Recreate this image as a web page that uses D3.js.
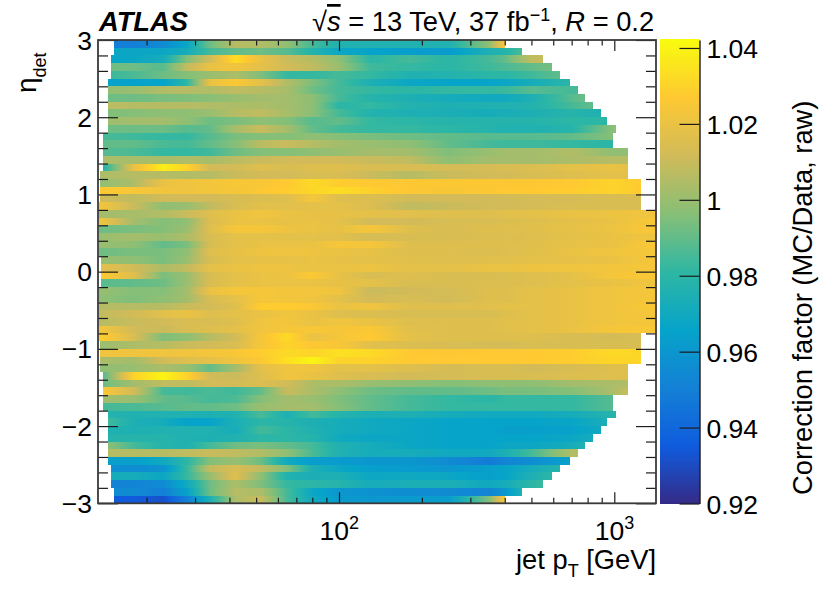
<!DOCTYPE html>
<html><head><meta charset="utf-8">
<script src="https://cdn.jsdelivr.net/npm/d3@7"></script>
<style>
html,body{margin:0;padding:0;background:#fff}
text{font-family:"Liberation Sans",Arial,sans-serif;fill:#000}
</style></head><body>
<svg id="c" width="830" height="592"></svg>
<script>
const pTKnots=[13.3,18,23,28,34,42,52,65,80,100,130,180,250,350,400,500,700,1000,1400];
const etaMajor=[3,2,1,0,-1,-2,-3];
const zTicks=[0.92,0.94,0.96,0.98,1,1.02,1.04];
const zTickLabels=["0.92","0.94","0.96","0.98","1","1.02","1.04"];
const birdR=[0.2082,0.0592,0.0780,0.0232,0.1802,0.5301,0.8186,0.9956,0.9764];
const birdG=[0.1664,0.3599,0.5041,0.6419,0.7178,0.7492,0.7328,0.7862,0.9832];
const birdB=[0.5293,0.8684,0.8385,0.7914,0.6425,0.4662,0.3499,0.1968,0.0539];
const rowStart=[15.2,15.2,14.9,14.9,14.9,14.5,14.5,14.5,14.5,14.5,14.5,14.5,13.9,13.9,13.9,13.9,13.9,13.6,13.6,13.6,13.6,13.4,13.4,13.4,13.4,13.4,13.4,13.4,13.7,13.7,
13.7,13.7,13.4,13.4,13.4,13.4,13.4,13.4,13.4,13.6,13.6,13.6,13.6,13.9,13.9,13.9,13.9,13.9,14.5,14.5,14.5,14.5,14.5,14.5,14.5,14.9,14.9,14.9,15.2,15.2];
const rowEnd=[400,463,550,592,635,690,738,783,835,893,941,1012,992,992,1121,1121,1121,1121,1247,1247,1247,1247,1400,1400,1400,1400,1400,1400,1400,1400,
1400,1400,1400,1400,1400,1400,1400,1400,1247,1247,1247,1247,1121,1121,1121,1121,992,992,1012,941,893,835,783,738,690,635,592,550,463,400];
const correction=[
[.950,.950,.955,.968,.992,1.006,1.005,.998,.985,.976,.976,.976,.976,.998,1.026],
[.968,.968,.968,.972,.985,.990,.992,.988,.978,.968,.966,.963,.962,.975,.978,.990],
[.966,.968,.972,.995,1.012,1.033,1.020,1.010,1.006,.998,.980,.985,.980,.985,.990,1.008,1.012],
[.993,.992,.988,1.008,1.020,1.022,1.018,1.012,1.008,1.000,.984,.982,.980,.984,.986,.990,.996],
[.982,.986,.992,.996,1.000,1.004,.995,.982,.982,.985,.982,.976,.977,.980,.980,.984,.992],
[.965,.965,.966,.980,1.020,1.026,1.018,1.005,.995,.985,.975,.968,.966,.966,.968,.972,.980],
[.998,1.000,1.005,1.006,1.005,1.008,1.006,1.003,.992,.985,.982,.980,.982,.982,.983,.988,.985,.985],
[.992,.992,.994,.995,.997,1.000,1.002,1.002,.998,.985,.978,.975,.972,.970,.970,.975,.988,.998],
[1.008,1.006,1.006,1.006,1.005,1.004,1.004,1.002,.998,.980,.982,.977,.975,.976,.976,.977,.985,.995],
[.995,.996,.998,.998,1.000,1.006,1.008,1.003,.997,.985,.977,.975,.974,.972,.973,.975,.978,.975],
[1.000,1.002,1.002,.998,.992,.994,.998,.996,.988,.990,.982,.980,.978,.978,.978,.978,.980,.980],
[.992,.992,.992,.988,.990,1.003,1.010,1.002,.990,.985,.982,.982,.980,.978,.976,.976,.978,.998,1.000],
[.986,.984,.982,.982,.988,.994,.996,.996,.998,.996,.994,.992,.990,.988,.988,.988,.990,.996],
[.990,.990,.986,.985,.990,.996,1.007,1.010,1.006,1.002,1.000,.998,.990,.985,.984,.984,.982,.980],
[.988,.986,.982,.982,.984,.992,.996,.996,.998,1.000,1.002,1.002,.995,1.000,1.002,1.002,1.005,.998,1.000],
[1.004,1.003,1.003,1.005,1.003,1.007,1.010,1.012,1.012,1.012,1.010,1.008,.998,1.002,1.002,1.002,1.004,1.006,1.008],
[.970,1.020,1.038,1.030,1.012,1.012,1.016,1.014,1.016,1.016,1.014,1.014,1.013,1.013,1.014,1.015,1.018,1.020,1.014],
[1.004,1.006,1.006,1.005,1.006,1.010,1.012,1.012,1.014,1.014,1.010,1.006,1.010,1.012,1.012,1.014,1.016,1.018,1.016],
[.998,1.004,1.020,1.022,1.023,1.025,1.025,1.027,1.032,1.028,1.027,1.026,1.026,1.026,1.026,1.026,1.027,1.030,1.026],
[1.027,1.025,1.022,1.022,1.023,1.024,1.026,1.028,1.031,1.033,1.029,1.026,1.025,1.026,1.027,1.027,1.028,1.030,1.026],
[1.012,1.008,1.012,1.012,1.012,1.014,1.015,1.016,1.024,1.016,1.015,1.012,1.012,1.012,1.012,1.013,1.013,1.014,1.014],
[1.024,1.010,.998,1.000,1.008,1.014,1.017,1.017,1.018,1.018,1.015,1.008,1.010,1.012,1.012,1.013,1.014,1.014,1.014],
[1.002,1.003,1.005,1.010,1.016,1.020,1.022,1.020,1.019,1.019,1.018,1.017,1.016,1.016,1.017,1.018,1.020,1.021,1.022],
[1.024,1.002,.996,.998,1.015,1.020,1.020,1.019,1.020,1.018,1.012,1.012,1.014,1.014,1.015,1.016,1.018,1.020,1.025],
[.992,.994,.996,1.000,1.016,1.024,1.024,1.021,1.020,1.019,1.024,1.016,1.014,1.016,1.016,1.017,1.019,1.021,1.026],
[1.000,1.002,1.000,1.004,1.014,1.018,1.018,1.018,1.018,1.017,1.013,1.014,1.014,1.015,1.015,1.016,1.018,1.020,1.022],
[1.000,.998,.990,.994,1.014,1.018,1.020,1.020,1.020,1.024,1.024,1.016,1.016,1.016,1.016,1.017,1.019,1.020,1.026],
[.992,.994,.994,.998,1.016,1.019,1.021,1.022,1.021,1.020,1.019,1.016,1.016,1.015,1.016,1.017,1.020,1.022,1.024],
[1.000,.998,.994,1.000,1.014,1.018,1.019,1.019,1.020,1.019,1.018,1.017,1.016,1.017,1.017,1.018,1.019,1.020,1.024],
[1.018,1.012,1.004,1.008,1.018,1.020,1.021,1.021,1.020,1.020,1.021,1.018,1.018,1.020,1.020,1.021,1.022,1.023,1.024],
[1.028,1.016,.994,1.000,1.014,1.018,1.020,1.021,1.026,1.019,1.014,1.016,1.014,1.014,1.015,1.016,1.018,1.024,1.026],
[.988,.990,.992,1.000,1.014,1.018,1.020,1.020,1.020,1.019,1.018,1.014,1.014,1.015,1.015,1.016,1.018,1.020,1.022],
[1.000,.996,.996,1.002,1.020,1.024,1.024,1.023,1.023,1.022,1.010,1.012,1.013,1.016,1.016,1.018,1.020,1.022,1.024],
[.998,.995,.998,1.002,1.014,1.018,1.024,1.023,1.022,1.018,1.012,1.014,1.012,1.016,1.016,1.018,1.020,1.022,1.024],
[1.006,1.006,1.006,1.010,1.012,1.016,1.028,1.028,1.026,1.020,1.022,1.016,1.016,1.017,1.018,1.018,1.020,1.022,1.026],
[1.008,1.012,1.017,1.020,1.016,1.018,1.020,1.022,1.020,1.016,1.015,1.014,1.014,1.014,1.016,1.018,1.020,1.022,1.024],
[1.006,1.010,1.012,1.014,1.014,1.016,1.022,1.023,1.020,1.022,1.020,1.016,1.016,1.016,1.017,1.018,1.020,1.022,1.024],
[1.024,1.012,1.010,1.014,1.016,1.018,1.022,1.024,1.025,1.024,1.026,1.017,1.016,1.016,1.017,1.018,1.020,1.024,1.026],
[1.030,1.014,.995,.998,1.006,1.012,1.024,1.032,1.020,1.024,1.027,1.018,1.016,1.016,1.016,1.016,1.014,1.013,1.014],
[1.000,1.004,1.006,1.010,1.012,1.014,1.024,1.030,1.026,1.025,1.017,1.015,1.014,1.013,1.013,1.014,1.014,1.014,1.014],
[1.022,1.022,1.022,1.022,1.023,1.025,1.028,1.032,1.030,1.034,1.032,1.027,1.026,1.027,1.027,1.027,1.028,1.032,1.030],
[1.004,1.002,1.012,1.016,1.018,1.022,1.026,1.034,1.040,1.030,1.030,1.027,1.027,1.027,1.027,1.027,1.028,1.031,1.030],
[.998,1.000,1.004,1.000,.990,1.002,1.018,1.022,1.022,1.018,1.018,1.016,1.013,1.014,1.014,1.012,1.014,1.016,1.018],
[.980,1.030,1.040,1.030,1.012,1.010,1.016,1.022,1.020,1.016,1.014,1.012,1.013,1.014,1.014,1.014,1.015,1.016,1.016],
[.990,1.002,1.008,1.008,1.012,1.012,1.015,1.012,1.004,1.004,1.000,.998,.996,.998,.998,.998,1.002,1.004,1.006],
[1.028,1.012,.985,.984,.986,.984,.990,1.010,1.004,.998,.992,.990,.990,.992,.994,.994,.996,1.004,1.020],
[1.002,1.000,.990,.988,.985,.986,.996,1.002,1.000,.995,.990,.985,.982,.980,.982,.982,.982,.988],
[.985,.986,.988,.990,.990,.992,1.000,1.002,1.002,.996,.990,.985,.982,.982,.982,.982,.982,.988],
[.978,.976,.976,.976,.975,.976,.986,.975,.985,.978,.974,.975,.972,.970,.970,.970,.972,.978,.978],
[.988,.975,.972,.965,.966,.974,.980,.978,.975,.972,.970,.968,.966,.966,.966,.966,.967,.975],
[.976,.975,.976,.976,.976,.972,.985,.980,.976,.972,.970,.968,.966,.966,.964,.964,.965,.972],
[.978,.978,.978,.976,.975,.976,.980,.980,.978,.970,.968,.968,.966,.966,.966,.966,.968,.975],
[1.002,.985,.978,.976,.985,.992,.994,.990,.985,.976,.972,.968,.966,.966,.968,.968,.972,.985],
[1.006,1.006,1.006,1.008,1.010,1.008,1.005,.998,.986,.976,.972,.972,.970,.970,.974,.985,1.005,1.010],
[.964,.964,.970,.980,.996,1.000,.992,.970,.963,.962,.960,.960,.955,.948,.952,.956,.965],
[.958,.956,.958,.982,1.008,1.014,1.008,.995,.975,.968,.964,.962,.960,.964,.966,.972,.980],
[.972,.972,.968,.982,1.000,1.016,.998,.976,.974,.975,.968,.970,.968,.964,.966,.975,.985],
[.952,.952,.955,.970,.992,1.004,.995,.982,.980,.978,.972,.974,.974,.970,.972,.980,.990],
[.955,.955,.950,.965,.992,1.006,1.004,.985,.968,.960,.958,.956,.955,.952,.960,.985],
[.935,.935,.932,.950,.975,1.004,1.010,.985,.970,.962,.960,.962,.963,.995,1.026]
];

const W=830,H=592,L=98,R=656,T=40,B=503.3;
const svg=d3.select("#c");
const defs=svg.append("defs");
const x=d3.scaleLog().domain([10**(2-241/275.3),10**(3+41.7/275.3)]).range([L,R]);
const y=d3.scaleLinear().domain([3,-3]).range([T,B]);
const zMin=.92,zMax=1.0421;
const stops=birdR.map((_,i)=>zMin+(zMax-zMin)*i/8);
const color=d3.scaleLinear().domain(stops).range(birdR.map((r,i)=>d3.rgb(r*255,birdG[i]*255,birdB[i]*255))).interpolate(d3.interpolateRgb).clamp(true);

correction.forEach((vals,r)=>{
  const g=defs.append("linearGradient").attr("id","row"+r).attr("gradientUnits","userSpaceOnUse")
    .attr("x1",x(pTKnots[0])).attr("x2",x(pTKnots[pTKnots.length-1])).attr("y1",0).attr("y2",0);
  const span=x(pTKnots[pTKnots.length-1])-x(pTKnots[0]);
  vals.forEach((v,i)=>{
    const x0=x(pTKnots[i]);
    if(i===vals.length-1){g.append("stop").attr("offset",(x0-x(pTKnots[0]))/span).attr("stop-color",color(v));return;}
    const x1=x(pTKnots[i+1]);
    for(let s=0;s<4;s++){
      const t=s/4;
      g.append("stop").attr("offset",(x0+(x1-x0)*t-x(pTKnots[0]))/span).attr("stop-color",color(v+(vals[i+1]-v)*t));
    }
  });
});

const heat=svg.append("g");
const cells=[];
correction.forEach((vals,r)=>{
  for(let i=0;i<pTKnots.length-1;i++){
    const lo=Math.max(pTKnots[i],rowStart[r]),hi=Math.min(pTKnots[i+1],rowEnd[r]);
    if(lo<hi) cells.push({r,lo,hi});
  }
});
heat.selectAll("rect").data(cells).join("rect")
  .attr("x",d=>x(d.lo)).attr("width",d=>x(d.hi)-x(d.lo))
  .attr("y",d=>y(3-d.r*.1)).attr("height",y(2.9)-y(3))
  .attr("fill",d=>`url(#row${d.r})`).attr("shape-rendering","crispEdges");

// colour bar
const zs=d3.scaleLinear().domain([zMin,zMax]).range([503.5,40]);
const barVals=d3.range(0,232).map(i=>zMin+(zMax-zMin)*(i+.5)/232);
svg.append("g").selectAll("rect").data(barVals).join("rect")
  .attr("x",660).attr("width",39.5)
  .attr("y",d=>zs(d)-1.5).attr("height",3)
  .attr("fill",d=>color(d)).attr("shape-rendering","crispEdges");

// axes
const fs=26.5, fb=27.3;
const decades=[100,1000];
const xMinor=[20,30,40,50,60,70,80,90,200,300,400,500,600,700,800,900];
const yMinor=d3.range(-2.8,3,.2).map(v=>+v.toFixed(1)).filter(v=>Math.round(v*10)%10!==0);
function style(g){g.select(".domain").remove();g.selectAll("line").attr("stroke","#1c1c1c").attr("stroke-width",1.2);g.selectAll("text").remove();}
svg.append("g").attr("transform",`translate(0,${B})`).call(d3.axisBottom(x).tickValues(decades).tickSize(-11).tickFormat("")).call(style);
svg.append("g").attr("transform",`translate(0,${B})`).call(d3.axisBottom(x).tickValues(xMinor).tickSize(-5.5).tickFormat("")).call(style);
svg.append("g").attr("transform",`translate(0,${T})`).call(d3.axisTop(x).tickValues(decades).tickSize(-11).tickFormat("")).call(style);
svg.append("g").attr("transform",`translate(0,${T})`).call(d3.axisTop(x).tickValues(xMinor).tickSize(-5.5).tickFormat("")).call(style);
svg.append("g").attr("transform",`translate(${L},0)`).call(d3.axisLeft(y).tickValues(etaMajor).tickSize(-20)).call(style);
svg.append("g").attr("transform",`translate(${L},0)`).call(d3.axisLeft(y).tickValues(yMinor).tickSize(-10)).call(style);
svg.append("g").attr("transform",`translate(${R},0)`).call(d3.axisRight(y).tickValues(etaMajor).tickSize(-20)).call(style);
svg.append("g").attr("transform",`translate(${R},0)`).call(d3.axisRight(y).tickValues(yMinor).tickSize(-10)).call(style);
svg.append("rect").attr("x",L).attr("y",T).attr("width",R-L).attr("height",B-T).attr("fill","none").attr("stroke","#3a3a3a").attr("stroke-width",1.8);

// eta labels
svg.append("g").selectAll("text").data(etaMajor).join("text")
  .attr("x",92).attr("y",d=>y(d)+9.5).attr("text-anchor","end").attr("font-size",fs)
  .text(d=>d<0?"\u2212"+(-d):d);

// x labels
[[100,2],[1000,3]].forEach(([v,e])=>{
  const t=svg.append("text").attr("x",x(v)-19.5).attr("y",540).attr("font-size",fs);
  t.append("tspan").text("10");
  t.append("tspan").attr("font-size",18).attr("dy",-11).text(e);
});
const xt=svg.append("text").attr("x",656).attr("y",569).attr("text-anchor","end").attr("font-size",fb);
xt.append("tspan").text("jet p");
xt.append("tspan").attr("font-size",18).attr("dy",8).text("T");
xt.append("tspan").attr("dy",-8).text(" [GeV]");

// y title
const yt=svg.append("text").attr("transform","translate(36,93) rotate(-90)").attr("font-size",28);
yt.append("tspan").text("\u03b7");
yt.append("tspan").attr("font-size",18).attr("dy",10).text("det");

// colour axis
svg.append("g").attr("transform","translate(699.5,0)")
  .call(d3.axisRight(zs).tickValues(zTicks).tickSizeInner(-20).tickSizeOuter(0).tickPadding(7).tickFormat((d,i)=>zTickLabels[i]))
  .call(g=>{
    g.select(".domain").attr("stroke","#1c1c1c").attr("stroke-width",1.4);
    g.selectAll("line").attr("stroke","#1c1c1c").attr("stroke-width",1.2);
    g.selectAll("text").attr("font-size",fs).attr("font-family",'"Liberation Sans",Arial,sans-serif').attr("fill","#000").attr("dy","0.36em");
  });
svg.append("text").attr("transform","translate(812,495) rotate(-90)").attr("font-size",fb).text("Correction factor (MC/Data, raw)");

// header
svg.append("text").attr("x",99).attr("y",31).attr("font-size",fb).attr("font-weight","bold").attr("font-style","italic").text("ATLAS");
const h=svg.append("text").attr("x",312).attr("y",31).attr("font-size",fb);
h.append("tspan").text("\u221A");
h.append("tspan").attr("font-style","italic").attr("text-decoration","overline").text("s");
h.append("tspan").text(" = 13 TeV, 37 fb");
h.append("tspan").attr("font-size",18).attr("dy",-10).text("\u22121");
h.append("tspan").attr("dy",10).text(", ");
h.append("tspan").attr("font-style","italic").text("R");
h.append("tspan").text(" = 0.2");
</script></body></html>
